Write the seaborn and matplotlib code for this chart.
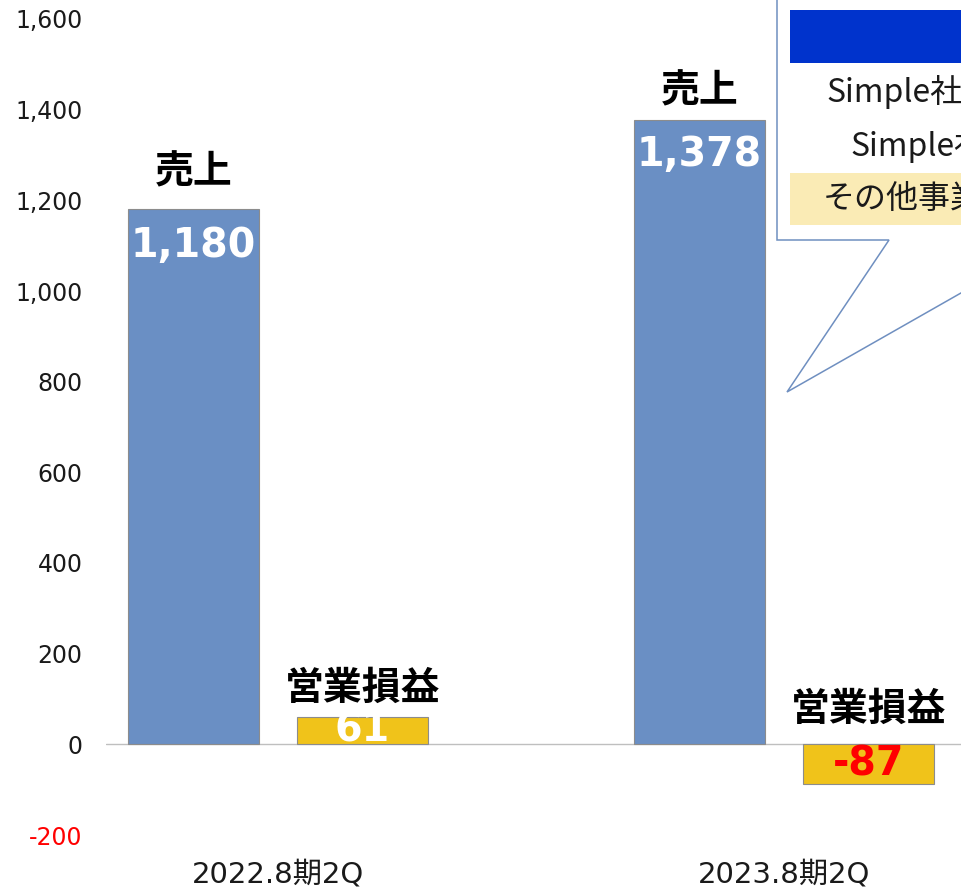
import matplotlib
matplotlib.use('Agg')
import matplotlib.pyplot as plt
import seaborn as sns
import pandas as pd
from matplotlib.patches import Polygon, Rectangle

# ---- data ----
periods = ['2022.8期2Q', '2023.8期2Q']
metrics = ['売上', '営業損益']
sales = [1180, 1378]
operating_profit = [61, -87]
yticks = [-200, 0, 200, 400, 600, 800, 1000, 1200, 1400, 1600]
callout_rows = ['Simple社', 'Simple社', 'その他事業']

df = pd.DataFrame({
    'period': periods * 2,
    'metric': [metrics[0]] * 2 + [metrics[1]] * 2,
    'value': sales + operating_profit,
})

sns.set_theme(style='white')
plt.rcParams['font.family'] = ['DejaVu Sans', 'Noto Sans CJK JP']

W, H = 961, 888
fig = plt.figure(figsize=(W / 100, H / 100), dpi=100)
ax = fig.add_axes([106 / W, 53 / H, 855 / W, 816 / H])

sns.barplot(data=df, x='period', y='value', hue='metric', order=periods,
            hue_order=metrics, palette=['#6A8FC4', '#F0C31A'], saturation=1,
            width=0.668, gap=0.228, edgecolor='#8C8C8C', linewidth=0.8,
            errorbar=None, legend=False, ax=ax)

ax.set_xlim(-0.34, 1.35)
ax.set_ylim(-200, 1600)
ax.set_yticks(yticks)
ax.set_yticklabels([f'{v:,}' for v in yticks])
for lbl, v in zip(ax.get_yticklabels(), yticks):
    lbl.set_color('#FF0000' if v < 0 else '#1A1A1A')
ax.set_xlabel('')
ax.set_ylabel('')
for s in ax.spines.values():
    s.set_visible(False)
ax.tick_params(axis='y', length=0, pad=17, labelsize=17)
ax.tick_params(axis='x', length=0, pad=18, labelsize=21, labelcolor='#1A1A1A')
ax.axhline(0, color='#BFBFBF', lw=1, zorder=0.5)

jp_bold = dict(family=['Noto Sans CJK JP'], fontweight='bold', fontsize=28,
               color='black', ha='center', va='center')
num_bold = dict(family=['DejaVu Sans'], fontweight='bold', fontsize=28.5,
                ha='center', va='center')

sales_head_off = [37, 29]
sales_val_off = [-37, -35]
op_head_off = [28, 35]

for i, bar in enumerate(ax.containers[0]):
    v = sales[i]
    x = bar.get_x() + bar.get_width() / 2
    ax.annotate(metrics[0], (x, v), xytext=(0, sales_head_off[i]),
                textcoords='offset pixels', **jp_bold)
    ax.annotate(f'{v:,}', (x, v), xytext=(0, sales_val_off[i]),
                textcoords='offset pixels', color='white', **num_bold)

for i, bar in enumerate(ax.containers[1]):
    v = operating_profit[i]
    x = bar.get_x() + bar.get_width() / 2
    ax.annotate(metrics[1], (x, max(v, 0)), xytext=(0, op_head_off[i]),
                textcoords='offset pixels', **jp_bold)
    ax.annotate(f'{v:,}', (x, v / 2), color='#FF0000' if v < 0 else 'white',
                **num_bold)


# ---- callout box (cropped at right edge, as in the source) ----
def fp(px, py):
    return (px / W, 1 - py / H)


callout = Polygon([fp(777, -20), fp(777, 240), fp(889, 240), fp(787, 392),
                   fp(1040, 248), fp(1040, -20)], closed=True,
                  transform=fig.transFigure, facecolor='white',
                  edgecolor='#6F8FC0', lw=1.1, zorder=2)
fig.add_artist(callout)
x0, y0 = fp(790, 63)
fig.add_artist(Rectangle((x0, y0), 250 / W, 53 / H, transform=fig.transFigure,
                         facecolor='#0033CC', edgecolor='none', zorder=3))
x0, y0 = fp(790, 225)
fig.add_artist(Rectangle((x0, y0), 250 / W, 52 / H, transform=fig.transFigure,
                         facecolor='#FAEBB5', edgecolor='none', zorder=3))
row_pos = [(826, 92), (850, 146), (823, 199)]
for txt, (px, py) in zip(callout_rows, row_pos):
    fig.text(*fp(px, py), txt, ha='left', va='center', fontsize=23,
             family=['Noto Sans CJK JP'], color='#1A1A1A', zorder=4)

fig.savefig('out.png', dpi=100)
